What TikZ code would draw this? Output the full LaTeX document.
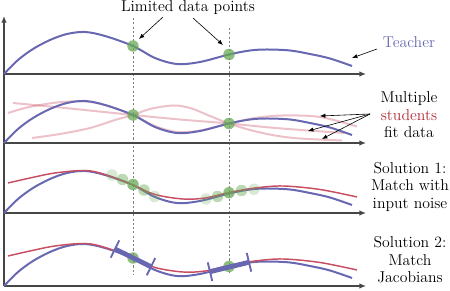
\documentclass[tikz,border=0pt]{standalone}
\usetikzlibrary{arrows.meta,calc}
\definecolor{tblue}{RGB}{104,104,178}
\definecolor{sred}{RGB}{200,78,100}
\definecolor{tred}{RGB}{178,42,52}
\definecolor{dgreen}{RGB}{105,170,85}
\definecolor{axisgray}{RGB}{70,70,70}
\newcommand\tcurve{plot[smooth,tension=0.55] coordinates {(4,74) (18,60) (33,49) (50,40) (67,34) (85,32) (105,36) (133,46) (155,58) (177,64) (200,62) (229,54.5) (250,50.5) (267,49.5) (290,50.5) (310,54) (330,58.5) (352,66)}}
\newcommand\rcurve{plot[smooth,tension=0.55] coordinates {(8,183) (30,178) (55,173) (85,170.5) (105,174.5) (133,185) (155,194.5) (183,199) (205,198) (229,192.5) (255,188) (283,186) (320,189.5) (357,197)}}
\begin{document}
\begin{tikzpicture}[x=0.75pt,y=-0.75pt,
  axis/.style={draw=axisgray,line width=1pt},
  axtip/.style={-{Latex[length=5pt,width=4.2pt]}},
  guide/.style={draw=gray,line width=0.4pt,dash pattern=on 1.6pt off 1.6pt},
  teacher/.style={draw=tblue,line width=1.5pt},
  student/.style={draw=sred,line width=1.1pt},
  ghost/.style={draw=sred,line width=1.5pt,draw opacity=0.35},
  datapt/.style={circle,fill=dgreen,fill opacity=0.75,inner sep=0pt,minimum size=8.6pt},
  noisemid/.style={datapt,fill opacity=0.45},
  noiseout/.style={datapt,fill opacity=0.25},
  jac/.style={draw=tblue,line width=3.6pt},
  jtick/.style={draw=tblue,line width=1.4pt},
  lbl/.style={font=\fontsize{11.8}{13.1}\selectfont,inner sep=0pt},
  pointer/.style={-{Latex[length=4pt,width=3.2pt]},line width=0.45pt}]
\useasboundingbox (0,0) rectangle (450,291);

% guide lines
\coordinate (g1t) at (133,18);  \coordinate (g1b) at (133,275);
\coordinate (g2t) at (229,28);  \coordinate (g2b) at (229,275);
\draw[guide] (g1t) -- (g1b);
\draw[guide] (g2t) -- (g2b);

% axes
\coordinate (o) at (4,286); \coordinate (ytop) at (4,16);
\draw[axis,axtip] (o) -- (ytop);
\foreach \yy/\nm in {74/a, 143/b, 213/c, 286/d}{
  \coordinate (\nm s) at (4,\yy); \coordinate (\nm e) at (366,\yy);
  \draw[axis,axtip] (\nm s) -- (\nm e);
}

% panel 1
\draw[teacher] \tcurve;
\node[datapt] (d1) at (133,46) {};
\node[datapt] (d2) at (229,54.5) {};

% panel 2
\draw[ghost] plot[smooth,tension=0.55] coordinates {(8,113) (25,108) (43,104.5) (62,102) (85,101.5) (105,105) (133,115) (155,126) (177,132) (200,130.5) (229,123.5) (255,118) (283,115.5) (320,117) (357,126.5)};
\draw[ghost] plot[smooth,tension=0.55] coordinates {(13,103) (70,108.5) (133,115) (180,119.5) (229,123.5) (270,127.5) (308,130.5) (345,133)};
\draw[ghost] plot[smooth,tension=0.55] coordinates {(32,138) (60,134) (90,128) (115,120) (133,115) (150,109) (173,105.5) (190,108) (210,116) (229,123.5) (250,130) (275,135.5) (300,138.5) (342,140.5)};
\begin{scope}[shift={(0,69)}]
  \draw[teacher] \tcurve;
\end{scope}
\node[datapt] (e1) at (133,115) {};
\node[datapt] (e2) at (229,123.5) {};

% panel 3
\begin{scope}[shift={(0,139)}]
  \draw[teacher] \tcurve;
\end{scope}
\draw[student] \rcurve;
\node[noiseout] (n1) at (112,175) {};
\node[noisemid] (n2) at (122.5,179.5) {};
\node[datapt]   (f1) at (133,184.5) {};
\node[noisemid] (n3) at (144,190) {};
\node[noiseout] (n4) at (154.5,196.5) {};
\node[noiseout] (n5) at (206,199) {};
\node[noisemid] (n6) at (217.5,196.5) {};
\node[datapt]   (f2) at (229,192.7) {};
\node[noisemid] (n7) at (241.5,190.5) {};
\node[noiseout] (n8) at (254,189.3) {};

% panel 4
\begin{scope}[shift={(0,212)}]
  \draw[teacher] \tcurve;
\end{scope}
\begin{scope}[shift={(0,73)}]
  \draw[student] \rcurve;
\end{scope}
\node[datapt] (h1) at (133,258) {};
\node[datapt] (h2) at (229,266.5) {};
\coordinate (j1a) at (115,249);   \coordinate (j1b) at (151,266.7);
\coordinate (j2a) at (210,271.7); \coordinate (j2b) at (249,262.3);
\draw[jac] (j1a) -- (j1b);
\draw[jac] (j2a) -- (j2b);
\draw[jtick] ($(j1a)!0.24!90:(j1b)$) -- ($(j1a)!0.24!-90:(j1b)$);
\draw[jtick] ($(j1b)!0.24!90:(j1a)$) -- ($(j1b)!0.24!-90:(j1a)$);
\draw[jtick] ($(j2a)!0.24!90:(j2b)$) -- ($(j2a)!0.24!-90:(j2b)$);
\draw[jtick] ($(j2b)!0.24!90:(j2a)$) -- ($(j2b)!0.24!-90:(j2a)$);

% labels
\node[lbl,anchor=base] (ltd) at (188,12) {Limited data points};
\node[lbl,anchor=base,text=tblue] (tch) at (409,48) {Teacher};
\node[lbl,anchor=base] (m1) at (409,102.7) {Multiple};
\node[lbl,anchor=base,text=tred] (m2) at (409,120.2) {students};
\node[lbl,anchor=base] (m3) at (409,137.7) {fit data};
\node[lbl,anchor=base] (s1a) at (410,173.3) {Solution 1:};
\node[lbl,anchor=base] (s1b) at (410,190.8) {Match with};
\node[lbl,anchor=base] (s1c) at (410,208.3) {input noise};
\node[lbl,anchor=base] (s2a) at (410,247.7) {Solution 2:};
\node[lbl,anchor=base] (s2b) at (410,265.2) {Match};
\node[lbl,anchor=base] (s2c) at (410,282.7) {Jacobians};

% pointers
\coordinate (q1s) at (163,17);  \coordinate (q1e) at (139,39);
\coordinate (q2s) at (193,18);  \coordinate (q2e) at (223,45);
\coordinate (q3s) at (377,49);  \coordinate (q3e) at (352,58);
\coordinate (q4s) at (370,114);
\coordinate (q4a) at (320,116); \coordinate (q4b) at (308,131); \coordinate (q4c) at (322,139);
\draw[pointer] (q1s) -- (q1e);
\draw[pointer] (q2s) -- (q2e);
\draw[pointer] (q3s) -- (q3e);
\draw[pointer] (q4s) -- (q4a);
\draw[pointer] (q4s) -- (q4b);
\draw[pointer] (q4s) -- (q4c);
\end{tikzpicture}
\end{document}
